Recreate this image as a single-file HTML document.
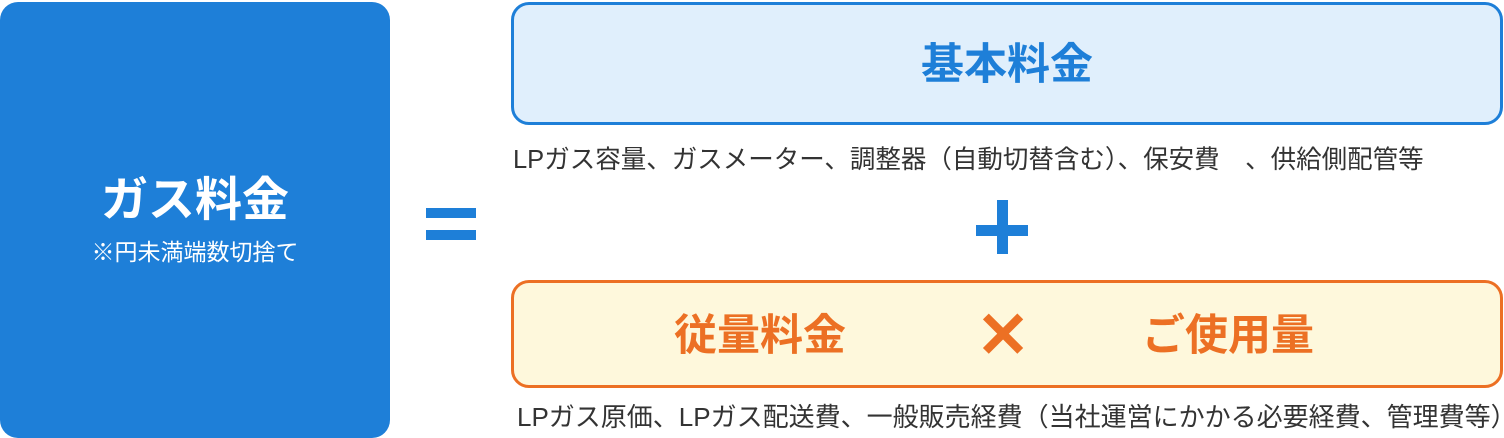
<!DOCTYPE html>
<html><head><meta charset="utf-8"><style>
body{margin:0;width:1504px;height:438px;position:relative;background:#fff;overflow:hidden;font-family:"Liberation Sans","Noto Sans CJK JP",sans-serif}
div{position:absolute;box-sizing:border-box}
.t{white-space:nowrap}
</style></head><body>
<div style="left:0;top:2px;width:390px;height:436px;background:#1e7fd8;border-radius:18px"></div>
<div class="t" style="left:0;width:390px;top:172px;text-align:center;color:#fff;font-weight:bold;font-size:47px;line-height:56px">ガス料金</div>
<div class="t" style="left:0;width:390px;top:237px;text-align:center;color:#fff;font-size:23px;line-height:30px">※円未満端数切捨て</div>
<div style="left:426px;top:208px;width:50px;height:10px;background:#1e7fd8"></div>
<div style="left:426px;top:230px;width:50px;height:10px;background:#1e7fd8"></div>
<div style="left:511px;top:2px;width:992px;height:123px;background:#e0effc;border:3px solid #1e7fd8;border-radius:18px"></div>
<div class="t" style="left:511px;width:992px;top:37px;text-align:center;color:#1e7fd8;font-weight:bold;font-size:43px;line-height:56px">基本料金</div>
<div class="t" style="left:513px;top:144px;color:#333;font-size:25.5px;line-height:32px">LPガス容量、ガスメーター、調整器（自動切替含む）、保安費　、供給側配管等</div>
<div style="left:976px;top:225px;width:52px;height:11px;background:#1e7fd8"></div>
<div style="left:997px;top:200px;width:11px;height:54px;background:#1e7fd8"></div>
<div style="left:511px;top:280px;width:992px;height:108px;background:#fef8dc;border:3px solid #ec7024;border-radius:18px"></div>
<div class="t" style="left:660px;width:200px;top:308px;text-align:center;color:#ec7024;font-weight:bold;font-size:43px;line-height:56px">従量料金</div>
<div class="t" style="left:953px;width:100px;top:302px;text-align:center;color:#ec7024;font-weight:bold;font-size:64px;line-height:66px">✕</div>
<div class="t" style="left:1128px;width:200px;top:308px;text-align:center;color:#ec7024;font-weight:bold;font-size:43px;line-height:56px">ご使用量</div>
<div class="t" style="left:517px;top:401px;color:#333;font-size:26px;line-height:32px">LPガス原価、LPガス配送費、一般販売経費（当社運営にかかる必要経費、管理費等）</div>
</body></html>
